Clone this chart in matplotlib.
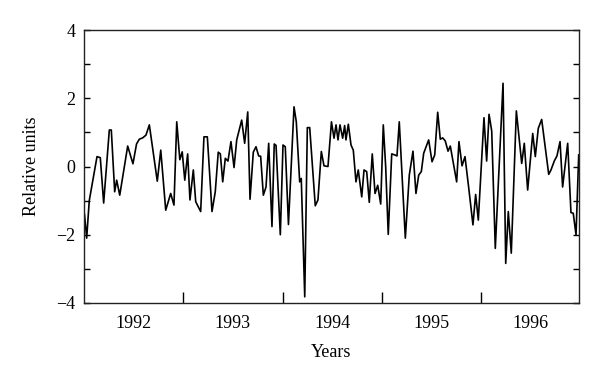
import numpy as np
import matplotlib.pyplot as plt
from matplotlib.ticker import FixedLocator, NullFormatter, FixedFormatter

plt.rcParams['font.family'] = ['Liberation Serif', 'DejaVu Serif']

# time in fractional years, values in relative units
anos = np.array([
    1992.005, 1992.027, 1992.053, 1992.131, 1992.164, 1992.198, 1992.255, 1992.275,
    1992.309, 1992.329, 1992.360, 1992.390, 1992.440, 1992.493, 1992.529, 1992.557,
    1992.591, 1992.624, 1992.658, 1992.738, 1992.773, 1992.823, 1992.873, 1992.906,
    1992.934, 1992.965, 1992.989, 1993.015, 1993.044, 1993.067, 1993.101, 1993.125,
    1993.175, 1993.208, 1993.242, 1993.289, 1993.322, 1993.352, 1993.373, 1993.397,
    1993.423, 1993.450, 1993.480, 1993.511, 1993.538, 1993.588, 1993.618, 1993.649,
    1993.672, 1993.705, 1993.732, 1993.759, 1993.779, 1993.806, 1993.833, 1993.860,
    1993.893, 1993.916, 1993.934, 1993.977, 1994.004, 1994.027, 1994.059, 1994.115,
    1994.138, 1994.172, 1994.188, 1994.223, 1994.249, 1994.273, 1994.329, 1994.356,
    1994.390, 1994.417, 1994.457, 1994.492, 1994.518, 1994.538, 1994.558, 1994.578,
    1994.605, 1994.625, 1994.638, 1994.662, 1994.689, 1994.712, 1994.739, 1994.762,
    1994.797, 1994.820, 1994.847, 1994.873, 1994.903, 1994.931, 1994.958, 1994.988,
    1995.014, 1995.038, 1995.064, 1995.099, 1995.129, 1995.152, 1995.175, 1995.236,
    1995.276, 1995.313, 1995.343, 1995.371, 1995.397, 1995.421, 1995.471, 1995.505,
    1995.532, 1995.562, 1995.588, 1995.612, 1995.638, 1995.666, 1995.689, 1995.723,
    1995.753, 1995.776, 1995.807, 1995.837, 1995.877, 1995.917, 1995.944, 1995.971,
    1996.028, 1996.055, 1996.079, 1996.106, 1996.142, 1996.220, 1996.247, 1996.273,
    1996.303, 1996.354, 1996.408, 1996.434, 1996.468, 1996.519, 1996.545, 1996.575,
    1996.609, 1996.680, 1996.703, 1996.736, 1996.763, 1996.794, 1996.820, 1996.871,
    1996.904, 1996.927, 1996.955, 1996.982])

valores = np.array([
    -1.40, -2.10, -1.00, 0.29, 0.26, -1.07, 1.07, 1.07,
    -0.74, -0.40, -0.84, -0.30, 0.60, 0.08, 0.66, 0.80,
    0.84, 0.92, 1.22, -0.43, 0.48, -1.28, -0.79, -1.13,
    1.31, 0.20, 0.43, -0.40, 0.37, -0.98, -0.10, -1.03,
    -1.32, 0.87, 0.87, -1.32, -0.74, 0.42, 0.37, -0.45,
    0.24, 0.16, 0.73, -0.03, 0.78, 1.36, 0.68, 1.60,
    -0.96, 0.42, 0.58, 0.31, 0.30, -0.84, -0.60, 0.68,
    -1.76, 0.66, 0.62, -2.00, 0.63, 0.58, -1.70, 1.75,
    1.31, -0.45, -0.35, -3.82, 1.14, 1.14, -1.15, -0.98,
    0.44, 0.02, 0.00, 1.31, 0.83, 1.22, 0.78, 1.22,
    0.83, 1.20, 0.78, 1.24, 0.63, 0.48, -0.45, -0.10,
    -0.89, -0.10, -0.15, -1.05, 0.37, -0.79, -0.55, -1.10,
    1.22, 0.00, -1.99, 0.37, 0.34, 0.31, 1.31, -2.10,
    -0.25, 0.45, -0.79, -0.25, -0.15, 0.39, 0.78, 0.14,
    0.34, 1.59, 0.80, 0.84, 0.75, 0.45, 0.60, 0.04,
    -0.45, 0.73, 0.02, 0.29, -0.69, -1.71, -0.82, -1.57,
    1.43, 0.16, 1.53, 1.04, -2.40, 2.44, -2.84, -1.32,
    -2.54, 1.63, 0.09, 0.68, -0.69, 0.97, 0.29, 1.12,
    1.38, -0.23, -0.10, 0.16, 0.31, 0.73, -0.60, 0.68,
    -1.35, -1.37, -2.00, 0.34])

etiquetas = ['1992', '1993', '1994', '1995', '1996']
yticks = [-4, -2, 0, 2, 4]
yticks_menores = [-3, -1, 1, 3]

fig = plt.figure(figsize=(6, 3.85), dpi=100)
ax = fig.add_axes([0.14, 0.213, 0.825, 0.709])

ax.plot(anos, valores, color='black', lw=1.2)

ax.set_xlim(1992, 1996.985)
ax.set_ylim(-4, 4)

# year boundaries as ticks, labels centred on each year
ax.xaxis.set_major_locator(FixedLocator([1993, 1994, 1995, 1996]))
ax.xaxis.set_major_formatter(NullFormatter())
ax.xaxis.set_minor_locator(FixedLocator([1992.5, 1993.5, 1994.5, 1995.5, 1996.5]))
ax.xaxis.set_minor_formatter(FixedFormatter(etiquetas))
ax.tick_params(axis='x', which='major', direction='in', length=8, width=1, top=False)
ax.tick_params(axis='x', which='minor', length=0, pad=9, labelsize=13, top=False)

ax.yaxis.set_major_locator(FixedLocator(yticks))
ax.yaxis.set_minor_locator(FixedLocator(yticks_menores))
ax.tick_params(axis='y', which='both', direction='in', length=4, width=1,
               right=True, labelright=False, pad=6, labelsize=13)

for s in ax.spines.values():
    s.set_linewidth(1)
    s.set_color('#222222')

ax.set_ylabel('Relative units', fontsize=13, labelpad=12)
ax.set_xlabel('Years', fontsize=13, labelpad=8)

fig.savefig('out.png', dpi=100)
